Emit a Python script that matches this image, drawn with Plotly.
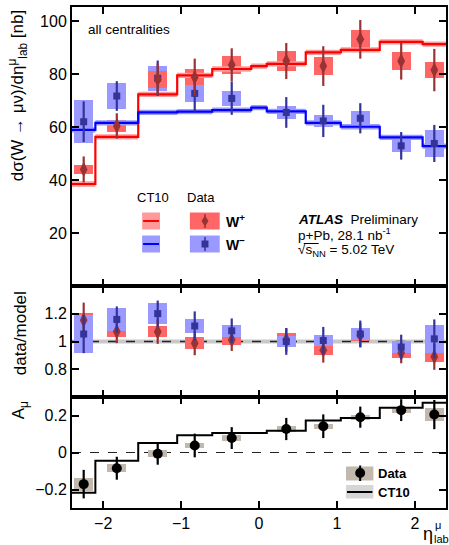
import plotly.graph_objects as go

# ---------------- data ----------------
edges = [-2.4, -2.1, -1.55, -1.05, -0.6, -0.1, 0.1, 0.6, 1.05, 1.55, 2.1, 2.4]
eta = [-2.25, -1.825, -1.3, -0.825, -0.35, 0.35, 0.825, 1.3, 1.825, 2.25]

ct10_wplus = [38.5, 56.3, 72.3, 79.5, 81.9, 83.0, 83.8, 88.2, 89.1, 92.1, 91.3]
ct10_wminus = [58.9, 61.6, 65.5, 65.8, 66.4, 67.3, 65.9, 61.6, 60.1, 56.1, 52.8]
ct10_band = 1.0

wplus = [44.0, 60.4, 78.0, 78.8, 83.4, 84.9, 83.0, 93.1, 84.9, 81.5]
wplus_stat = [4.9, 4.8, 6.0, 7.0, 6.3, 6.8, 7.5, 7.3, 7.0, 8.0]
wplus_sys = [1.7, 2.2, 3.1, 3.1, 3.3, 3.9, 3.5, 3.6, 3.4, 3.0]

wminus = [62.0, 71.7, 78.4, 72.7, 70.8, 65.5, 62.3, 63.3, 52.9, 53.8]
wminus_stat = [7.7, 5.6, 6.7, 6.9, 6.2, 5.8, 6.1, 5.7, 5.2, 7.0]
wminus_sys = [8.1, 5.0, 4.8, 3.3, 2.9, 2.5, 2.3, 2.8, 2.5, 5.2]

ratio_wplus = [1.154, 1.072, 1.070, 0.988, 1.012, 1.012, 0.937, 1.047, 0.918, 0.890]
ratio_wplus_stat = [0.126, 0.084, 0.087, 0.087, 0.080, 0.085, 0.089, 0.085, 0.075, 0.094]
ratio_wplus_sys = [0.050, 0.042, 0.039, 0.042, 0.035, 0.050, 0.035, 0.040, 0.035, 0.035]

ratio_wminus = [1.054, 1.159, 1.201, 1.112, 1.077, 1.000, 1.007, 1.054, 0.960, 1.019]
ratio_wminus_stat = [0.138, 0.094, 0.094, 0.105, 0.089, 0.096, 0.098, 0.097, 0.089, 0.140]
ratio_wminus_sys = [0.140, 0.084, 0.074, 0.053, 0.044, 0.041, 0.041, 0.043, 0.041, 0.100]

asym = [-0.171, -0.085, -0.007, 0.038, 0.078, 0.127, 0.142, 0.191, 0.229, 0.205]
asym_stat = [0.077, 0.062, 0.059, 0.064, 0.059, 0.060, 0.064, 0.057, 0.059, 0.079]
asym_sys = [0.035, 0.021, 0.019, 0.013, 0.014, 0.014, 0.014, 0.014, 0.014, 0.034]
ct10_asym = [-0.218, -0.045, 0.051, 0.093, 0.106, 0.106, 0.118, 0.173, 0.187, 0.242, 0.269]

top_ticks = [20, 40, 60, 80, 100]
mid_ticks = [0.8, 1, 1.2]
bot_ticks = [-0.2, 0, 0.2]
x_ticks = [-2, -1, 0, 1, 2]

# ---------------- style ----------------
FONT = "Liberation Sans, Arial, Helvetica, sans-serif"
RED_LINE = "#ff0000"
RED_BAND = "#ff9a9a"
RED_BOX = "#ff6666"
RED_MK = "#993333"
BLUE_LINE = "#0000ff"
BLUE_BAND = "#9a9aff"
BLUE_BOX = "#9999ff"
BLUE_MK = "#333399"
GRAY_BOX = "#c2b8ae"
BOX_W = 0.24

W, H = 449, 545
ML, MR, MT, MB = 72, 1, 7, 37
PW, PH = W - ML - MR, H - MT - MB


def PX(px):
    return (px - ML) / PW


def PY(py):
    return (H - MB - py) / PH


d_top = [PY(286), 1.0]
d_mid = [PY(397), PY(286)]
d_bot = [0.0, PY(397)]

fig = go.Figure()


def step(vals):
    return list(vals) + [vals[-1]]


def band(vals, half, color, xa, ya):
    lo = [v - half for v in vals]
    hi = [v + half for v in vals]
    fig.add_trace(go.Scatter(x=edges, y=step(lo), mode="lines", line=dict(width=0, shape="hv"),
                             hoverinfo="skip", showlegend=False, xaxis=xa, yaxis=ya))
    fig.add_trace(go.Scatter(x=edges, y=step(hi), mode="lines", line=dict(width=0, shape="hv"),
                             fill="tonexty", fillcolor=color, hoverinfo="skip", showlegend=False,
                             xaxis=xa, yaxis=ya))


def line(vals, color, xa, ya, width=2.2):
    fig.add_trace(go.Scatter(x=edges, y=step(vals), mode="lines",
                             line=dict(color=color, width=width, shape="hv"),
                             showlegend=False, xaxis=xa, yaxis=ya))


def boxes(vals, sys, color, xa, ya):
    fig.add_trace(go.Bar(x=eta, y=[2 * s for s in sys], base=[v - s for v, s in zip(vals, sys)],
                         width=BOX_W, marker=dict(color=color, line=dict(width=0)),
                         showlegend=False, xaxis=xa, yaxis=ya))


def points(vals, stat, color, symbol, size, xa, ya):
    fig.add_trace(go.Scatter(x=eta, y=vals, mode="markers",
                             marker=dict(color=color, symbol=symbol, size=size, line=dict(width=0)),
                             error_y=dict(type="data", array=stat, visible=True, width=0,
                                          thickness=2.2, color=color),
                             showlegend=False, xaxis=xa, yaxis=ya))


# top panel
band(ct10_wplus, ct10_band, RED_BAND, "x", "y")
band(ct10_wminus, ct10_band, BLUE_BAND, "x", "y")
line(ct10_wplus, RED_LINE, "x", "y")
line(ct10_wminus, BLUE_LINE, "x", "y")
boxes(wminus, wminus_sys, BLUE_BOX, "x", "y")
boxes(wplus, wplus_sys, RED_BOX, "x", "y")
points(wminus, wminus_stat, BLUE_MK, "square", 7, "x", "y")
points(wplus, wplus_stat, RED_MK, "diamond-tall", 11, "x", "y")

# middle panel
boxes(ratio_wplus, ratio_wplus_sys, RED_BOX, "x2", "y2")
boxes(ratio_wminus, ratio_wminus_sys, BLUE_BOX, "x2", "y2")
points(ratio_wplus, ratio_wplus_stat, RED_MK, "diamond-tall", 11, "x2", "y2")
points(ratio_wminus, ratio_wminus_stat, BLUE_MK, "square", 7, "x2", "y2")

# bottom panel
line(ct10_asym, "black", "x3", "y3", width=2)
boxes(asym, asym_sys, GRAY_BOX, "x3", "y3")
points(asym, asym_stat, "black", "circle", 10, "x3", "y3")

axis_common = dict(showline=True, linewidth=2, linecolor="black", mirror="ticks",
                   ticks="inside", ticklen=7, tickwidth=1.5, tickcolor="black",
                   showgrid=False, zeroline=False,
                   tickfont=dict(family=FONT, size=16, color="black"))

fig.update_layout(
    width=W, height=H,
    margin=dict(l=ML, r=MR, t=MT, b=MB),
    paper_bgcolor="white", plot_bgcolor="white",
    barmode="overlay", bargap=0,
    font=dict(family=FONT, color="black"),
    showlegend=False,
    xaxis=dict(domain=[0, 1], anchor="y", range=[-2.4, 2.4], tickvals=x_ticks,
               showticklabels=False, **axis_common),
    xaxis2=dict(domain=[0, 1], anchor="y2", range=[-2.4, 2.4], tickvals=x_ticks,
                showticklabels=False, matches="x", **axis_common),
    xaxis3=dict(domain=[0, 1], anchor="y3", range=[-2.4, 2.4], tickvals=x_ticks,
                matches="x", **axis_common),
    yaxis=dict(domain=d_top, anchor="x", range=[0, 105.3], tickvals=top_ticks, **axis_common),
    yaxis2=dict(domain=d_mid, anchor="x2", range=[0.6, 1.4], tickvals=mid_ticks,
                ticktext=["0.8", "1", "1.2"], **axis_common),
    yaxis3=dict(domain=d_bot, anchor="x3", range=[-0.3, 0.3], tickvals=bot_ticks,
                ticktext=["\u22120.2", "0", "0.2"], **axis_common),
)

shapes = []
# model band and reference lines in lower panels
shapes.append(dict(type="rect", xref="x2 domain", yref="y2", x0=0, x1=1, y0=0.985, y1=1.015,
                   fillcolor="#c8c8c8", line=dict(width=0), layer="below"))
shapes.append(dict(type="line", xref="x2 domain", yref="y2", x0=0, x1=1, y0=1, y1=1,
                   line=dict(color="#222222", width=1.6, dash="dash"), layer="below"))
shapes.append(dict(type="line", xref="x3 domain", yref="y3", x0=0, x1=1, y0=0, y1=0,
                   line=dict(color="#222222", width=1.2, dash="dash"), layer="below"))


def rect(x0, x1, y0, y1, color):
    shapes.append(dict(type="rect", xref="paper", yref="paper", x0=PX(x0), x1=PX(x1),
                       y0=PY(y1), y1=PY(y0), fillcolor=color, line=dict(width=0)))


def seg(x0, y0, x1, y1, color, width):
    shapes.append(dict(type="line", xref="paper", yref="paper", x0=PX(x0), x1=PX(x1),
                       y0=PY(y0), y1=PY(y1), line=dict(color=color, width=width)))


# top legend swatches
rect(142.5, 160.5, 212.5, 229.5, RED_BAND)
seg(143.5, 221, 159.5, 221, RED_LINE, 2)
rect(142.5, 160.5, 235.5, 252.5, BLUE_BAND)
seg(143.5, 244, 159.5, 244, BLUE_LINE, 2)
rect(190.5, 220.5, 212.5, 229.5, RED_BOX)
seg(205.7, 214, 205.7, 228, RED_MK, 1.5)
shapes.append(dict(type="path", xref="paper", yref="paper",
                   path="M {a},{b} L {c},{d} L {a},{e} L {f},{d} Z".format(
                       a=PX(205.7), b=PY(215.5), c=PX(209.2), d=PY(221), e=PY(226.5), f=PX(202.2)),
                   fillcolor=RED_MK, line=dict(width=0)))
rect(190.5, 220.5, 235.5, 252.5, BLUE_BOX)
seg(205.7, 237, 205.7, 251, BLUE_MK, 1.5)
rect(202.2, 209.2, 240.5, 247.5, BLUE_MK)

# bottom legend swatches
rect(347.5, 375, 466.5, 480.5, GRAY_BOX)
seg(361.7, 465.5, 361.7, 481, "black", 2)
shapes.append(dict(type="circle", xref="paper", yref="paper", x0=PX(356.7), x1=PX(366.7),
                   y0=PY(478), y1=PY(468), fillcolor="black", line=dict(width=0)))
rect(347.5, 375, 485, 498.5, "#d6d6d6")
seg(348.5, 492, 374, 492, "black", 2)

# overline of the sqrt(s_NN)
seg(305, 243.5, 320, 243.5, "black", 1)

fig.update_layout(shapes=shapes)

ann = []


def text(s, x, y, size, xanchor="left", yanchor="middle", angle=0):
    ann.append(dict(text=s, x=PX(x), y=PY(y), xref="paper", yref="paper", showarrow=False,
                    xanchor=xanchor, yanchor=yanchor, textangle=angle,
                    font=dict(family=FONT, size=size, color="black")))


text("all centralities", 86, 29, 13.5)
text("CT10", 153, 197, 13, xanchor="center")
text("Data", 201.5, 197, 13, xanchor="center")
text("<b>W<sup>+</sup></b>", 225, 221, 14)
text("<b>W<sup>\u2212</sup></b>", 225, 244, 14)
text("<b><i>ATLAS</i></b>  Preliminary", 297, 219.5, 13.5)
text("p+Pb, 28.1 nb<sup>-1</sup>", 297, 234, 13.5)
text("\u221As<sub>NN</sub> = 5.02 TeV", 297, 250.5, 13.5)
text("<b>Data</b>", 378, 473, 13)
text("<b>CT10</b>", 378, 492, 13)

text("d\u03c3(W \u2192 \u03bc\u03bd)/d\u03b7<sup>\u03bc</sup><sub>lab</sub> [nb]", 18, 95, 17,
     xanchor="center", angle=-90)
text("data/model", 20, 333, 17, xanchor="center", angle=-90)
text("A<sub>\u03bc</sub>", 20, 410, 17, xanchor="center", angle=-90)
# x-axis title with stacked super/subscript
text("\u03b7", 430, 534, 18, xanchor="center")
text("\u03bc", 435, 525, 11)
text("lab", 434, 539, 11)

fig.update_layout(annotations=ann)

fig.write_html("out.html")
